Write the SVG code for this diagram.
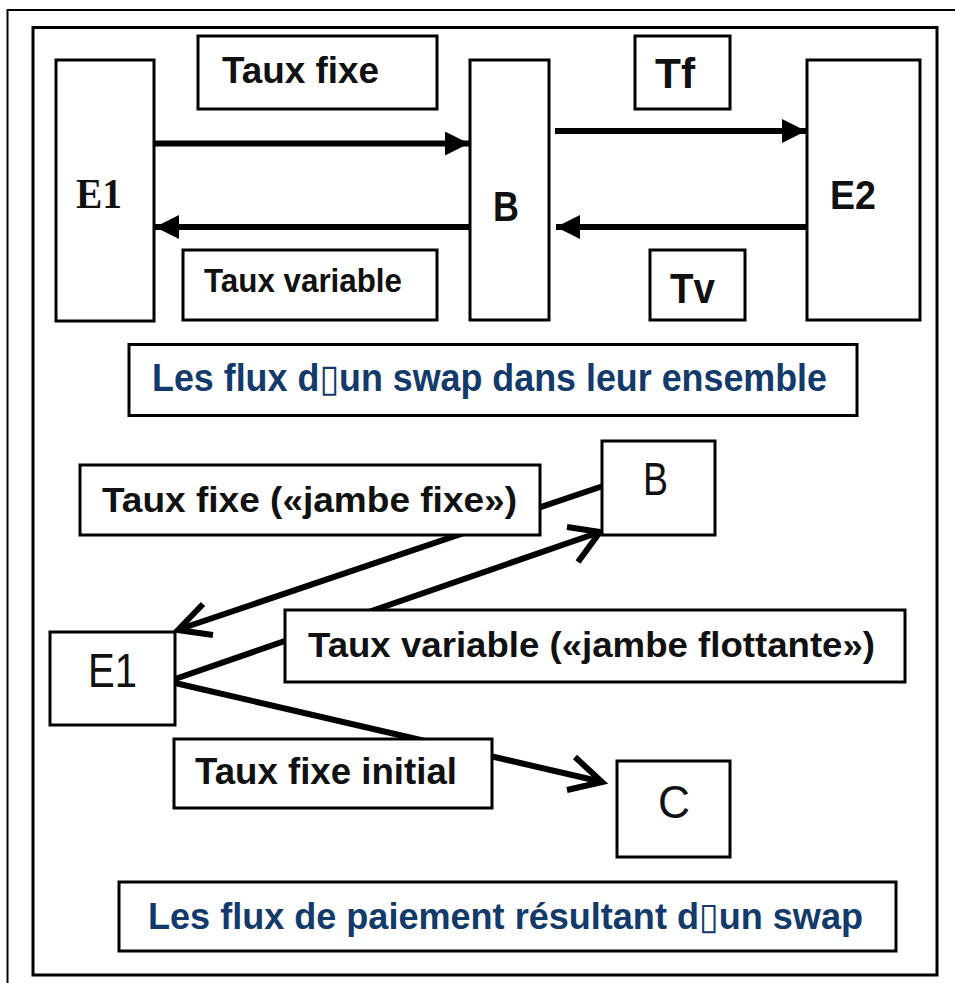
<svg xmlns="http://www.w3.org/2000/svg" width="955" height="983" viewBox="0 0 955 983">
  <style>
    .box { fill: #ffffff; stroke: #000000; stroke-width: 3; }
    .lbl { font-family: "Liberation Sans", Arial, sans-serif; font-weight: bold; fill: #111111; }
    .reg { font-family: "Liberation Sans", Arial, sans-serif; font-weight: normal; fill: #111111; }
    .serif { font-family: "Liberation Serif", "Times New Roman", serif; font-weight: bold; fill: #111111; }
    .cap { font-family: "Liberation Sans", "DejaVu Sans", Arial, sans-serif; font-weight: bold; fill: #123A6B; }
    .conn { stroke: #000000; stroke-width: 6; fill: none; }
    .chev { stroke: #000000; stroke-width: 6; fill: none; stroke-linejoin: miter; stroke-linecap: butt; }
  </style>
  <defs>
    <marker id="tri" viewBox="0 0 24 24" refX="24" refY="12" markerWidth="24" markerHeight="24" markerUnits="userSpaceOnUse" orient="auto">
      <path d="M0,0 L24,12 L0,24 Z" fill="#000000"/>
    </marker>
  </defs>
  <rect width="955" height="983" fill="#ffffff"/>
  <!-- frames -->
  <rect x="7.5" y="10" width="1000" height="1000" fill="none" stroke="#000000" stroke-width="2"/>
  <rect x="33" y="27.5" width="904" height="947.5" fill="none" stroke="#000000" stroke-width="3"/>

  <!-- connectors -->
  <g id="connectors">
    <line class="conn" x1="154" y1="143.5" x2="469" y2="143.5" marker-end="url(#tri)"/>
    <line class="conn" x1="555" y1="131" x2="806" y2="131" marker-end="url(#tri)"/>
    <line class="conn" x1="807" y1="227" x2="556" y2="227" marker-end="url(#tri)"/>
    <line class="conn" x1="470" y1="227" x2="155" y2="227" marker-end="url(#tri)"/>
    <!-- bottom section -->
    <line class="conn" x1="603" y1="486" x2="180" y2="629"/>
    <polyline class="chev" points="203,604 178,630 213,635"/>
    <line class="conn" x1="175" y1="679" x2="597" y2="533"/>
    <polyline class="chev" points="567,527 600,532 578,562"/>
    <line class="conn" x1="175" y1="683" x2="598" y2="781"/>
    <polyline class="chev" points="575,757 602,782 567,790"/>
  </g>

  <!-- top section nodes -->
  <g id="top-E1">
    <rect class="box" x="56" y="60" width="98" height="261"/>
    <text class="serif" x="76" y="208" font-size="42" textLength="46" lengthAdjust="spacingAndGlyphs">E1</text>
  </g>
  <g id="top-B">
    <rect class="box" x="470" y="60" width="79" height="260"/>
    <text class="lbl" x="493" y="221" font-size="43" textLength="26" lengthAdjust="spacingAndGlyphs">B</text>
  </g>
  <g id="top-E2">
    <rect class="box" x="807" y="60" width="113" height="260"/>
    <text class="lbl" x="830" y="209" font-size="40" textLength="46" lengthAdjust="spacingAndGlyphs">E2</text>
  </g>
  <g id="lbl-taux-fixe">
    <rect class="box" x="198" y="36" width="239" height="73"/>
    <text class="lbl" x="222" y="83" font-size="36" textLength="157" lengthAdjust="spacingAndGlyphs">Taux fixe</text>
  </g>
  <g id="lbl-taux-variable">
    <rect class="box" x="183" y="250" width="254" height="70"/>
    <text class="lbl" x="204" y="292" font-size="34" textLength="198" lengthAdjust="spacingAndGlyphs">Taux variable</text>
  </g>
  <g id="lbl-tf">
    <rect class="box" x="635" y="36" width="95" height="73"/>
    <text class="lbl" x="655" y="88" font-size="43" textLength="40" lengthAdjust="spacingAndGlyphs">Tf</text>
  </g>
  <g id="lbl-tv">
    <rect class="box" x="650" y="250" width="95" height="70"/>
    <text class="lbl" x="670" y="303" font-size="43" textLength="45" lengthAdjust="spacingAndGlyphs">Tv</text>
  </g>
  <g id="caption-1">
    <rect class="box" x="129" y="344.5" width="728" height="71"/>
    <text class="cap" x="152" y="391" font-size="38" textLength="675" lengthAdjust="spacingAndGlyphs">Les flux d▯un swap dans leur ensemble</text>
  </g>

  <!-- bottom section nodes -->
  <g id="lbl-jambe-fixe">
    <rect class="box" x="80" y="465" width="460" height="70"/>
    <text class="lbl" x="102" y="512" font-size="35" textLength="415" lengthAdjust="spacingAndGlyphs">Taux fixe («jambe fixe»)</text>
  </g>
  <g id="bot-B">
    <rect class="box" x="602" y="441" width="113" height="94"/>
    <text class="reg" x="643" y="495" font-size="46" textLength="25" lengthAdjust="spacingAndGlyphs">B</text>
  </g>
  <g id="lbl-jambe-flottante">
    <rect class="box" x="285" y="610" width="620" height="72"/>
    <text class="lbl" x="308" y="657" font-size="35" textLength="567" lengthAdjust="spacingAndGlyphs">Taux variable («jambe flottante»)</text>
  </g>
  <g id="bot-E1">
    <rect class="box" x="50" y="632" width="125" height="93"/>
    <text class="reg" x="88" y="687" font-size="48" textLength="49" lengthAdjust="spacingAndGlyphs">E1</text>
  </g>
  <g id="lbl-fixe-initial">
    <rect class="box" x="174" y="739" width="318" height="69"/>
    <text class="lbl" x="195" y="784" font-size="37" textLength="262" lengthAdjust="spacingAndGlyphs">Taux fixe initial</text>
  </g>
  <g id="bot-C">
    <rect class="box" x="617" y="761" width="113" height="96"/>
    <text class="reg" x="658" y="818" font-size="47" textLength="32" lengthAdjust="spacingAndGlyphs">C</text>
  </g>
  <g id="caption-2">
    <rect class="box" x="119" y="882" width="777" height="69"/>
    <text class="cap" x="148" y="929" font-size="37" textLength="715" lengthAdjust="spacingAndGlyphs">Les flux de paiement résultant d▯un swap</text>
  </g>
</svg>
